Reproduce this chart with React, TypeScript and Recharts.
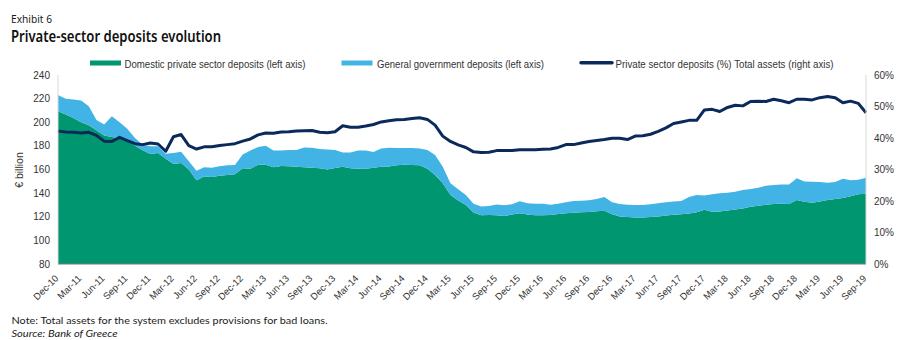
import { ComposedChart, Area, Line, XAxis, YAxis } from 'recharts';

// monthly observations, Dec-10 .. Sep-19
const months = [
  'Dec-10',
  'Jan-11', 'Feb-11', 'Mar-11', 'Apr-11', 'May-11', 'Jun-11', 'Jul-11', 'Aug-11', 'Sep-11', 'Oct-11', 'Nov-11', 'Dec-11',
  'Jan-12', 'Feb-12', 'Mar-12', 'Apr-12', 'May-12', 'Jun-12', 'Jul-12', 'Aug-12', 'Sep-12', 'Oct-12', 'Nov-12', 'Dec-12',
  'Jan-13', 'Feb-13', 'Mar-13', 'Apr-13', 'May-13', 'Jun-13', 'Jul-13', 'Aug-13', 'Sep-13', 'Oct-13', 'Nov-13', 'Dec-13',
  'Jan-14', 'Feb-14', 'Mar-14', 'Apr-14', 'May-14', 'Jun-14', 'Jul-14', 'Aug-14', 'Sep-14', 'Oct-14', 'Nov-14', 'Dec-14',
  'Jan-15', 'Feb-15', 'Mar-15', 'Apr-15', 'May-15', 'Jun-15', 'Jul-15', 'Aug-15', 'Sep-15', 'Oct-15', 'Nov-15', 'Dec-15',
  'Jan-16', 'Feb-16', 'Mar-16', 'Apr-16', 'May-16', 'Jun-16', 'Jul-16', 'Aug-16', 'Sep-16', 'Oct-16', 'Nov-16', 'Dec-16',
  'Jan-17', 'Feb-17', 'Mar-17', 'Apr-17', 'May-17', 'Jun-17', 'Jul-17', 'Aug-17', 'Sep-17', 'Oct-17', 'Nov-17', 'Dec-17',
  'Jan-18', 'Feb-18', 'Mar-18', 'Apr-18', 'May-18', 'Jun-18', 'Jul-18', 'Aug-18', 'Sep-18', 'Oct-18', 'Nov-18', 'Dec-18',
  'Jan-19', 'Feb-19', 'Mar-19', 'Apr-19', 'May-19', 'Jun-19', 'Jul-19', 'Aug-19', 'Sep-19',
];

// € billion
const privateDeposits = [
  209.4, 206.6, 203.7, 200.0, 197.5, 193.3, 188.7, 187.6, 186.5, 184.8,
  180.2, 176.3, 173.1, 174.0, 169.0, 164.6, 165.5, 160.0, 151.0, 154.0,
  153.6, 154.7, 155.3, 156.0, 161.0, 160.7, 164.0, 164.0, 162.0, 163.0,
  162.7, 162.4, 161.8, 161.5, 161.0, 160.1, 161.2, 162.4, 161.0, 160.7,
  160.7, 161.5, 162.4, 162.6, 163.5, 164.0, 163.8, 163.5, 160.7, 155.3,
  148.3, 138.5, 133.7, 130.0, 123.5, 121.3, 121.5, 121.3, 120.7, 121.8,
  123.0, 121.8, 121.3, 121.3, 121.5, 122.4, 123.0, 123.3, 123.8, 124.1,
  124.6, 125.1, 122.2, 120.2, 119.7, 119.4, 119.4, 119.7, 120.2, 121.1,
  121.7, 122.2, 122.8, 123.8, 125.9, 124.2, 124.5, 125.3, 126.2, 127.0,
  128.4, 129.3, 130.2, 130.7, 131.0, 130.7, 134.1, 132.7, 131.8, 133.0,
  134.1, 135.0, 135.8, 137.3, 139.0, 139.5,
];

const govDeposits = [
  13.6, 13.4, 15.6, 18.5, 16.1, 8.7, 9.3, 17.4, 13.5, 9.6,
  6.5, 4.7, 6.6, 5.7, 4.4, 9.4, 9.5, 7.0, 8.0, 8.0,
  7.9, 8.0, 8.2, 7.8, 11.6, 15.3, 15.0, 16.2, 14.0, 13.0,
  13.8, 14.1, 16.9, 17.0, 16.3, 16.9, 15.3, 11.9, 13.3, 15.3,
  15.3, 13.4, 15.3, 15.9, 14.7, 14.2, 14.4, 14.2, 15.8, 17.0,
  14.1, 9.9, 9.6, 8.5, 7.4, 7.3, 7.7, 9.0, 9.1, 8.8,
  10.2, 9.7, 9.6, 9.6, 8.6, 8.6, 9.3, 10.0, 9.8, 9.8,
  10.4, 11.7, 10.1, 10.5, 10.5, 10.5, 10.5, 10.8, 11.3, 11.1,
  11.3, 11.1, 14.0, 14.7, 12.0, 14.8, 15.3, 15.1, 15.0, 15.6,
  15.0, 15.3, 16.1, 16.2, 16.2, 16.5, 18.5, 17.2, 17.9, 16.4,
  14.7, 14.4, 16.4, 13.6, 12.4, 13.6,
];

// private sector deposits as % of total assets
const depositShare = [
  42.2, 41.9, 41.8, 41.6, 41.8, 40.8, 39.0, 38.9, 40.2, 39.2,
  38.2, 37.9, 38.4, 38.1, 35.8, 40.4, 41.1, 37.6, 36.5, 37.2,
  37.2, 37.6, 37.9, 38.2, 39.0, 39.7, 41.0, 41.6, 41.5, 41.9,
  42.0, 42.2, 42.3, 42.4, 41.8, 41.7, 42.0, 43.9, 43.4, 43.4,
  43.8, 44.3, 45.1, 45.5, 45.8, 45.9, 46.2, 46.4, 45.9, 44.1,
  40.6, 38.9, 37.8, 37.0, 35.6, 35.4, 35.5, 36.0, 36.0, 36.0,
  36.3, 36.3, 36.3, 36.4, 36.5, 37.0, 37.9, 37.9, 38.4, 38.9,
  39.2, 39.5, 39.9, 39.9, 39.5, 40.6, 40.7, 41.2, 42.1, 43.2,
  44.6, 45.1, 45.6, 45.6, 48.9, 49.1, 48.4, 49.7, 50.4, 50.2,
  51.6, 51.7, 51.6, 52.3, 51.8, 51.2, 52.3, 52.3, 52.1, 52.8,
  53.2, 52.8, 51.2, 51.7, 51.0, 48.0,
];

const leftTicks = [80, 100, 120, 140, 160, 180, 200, 220, 240];
const rightTicks = [0, 10, 20, 30, 40, 50, 60];

const GREEN = '#00966f';
const BLUE = '#41b3e5';
const NAVY = '#0b2a5b';
const ARIAL = '"Liberation Sans", Arial, sans-serif';
const SANS = '"Noto Sans", "Open Sans", sans-serif';
const NOTE = 'Lato, "Noto Sans", sans-serif';

function MonthTick(props: any) {
  const { x, y, payload } = props;
  const ax = x + 1;
  const ay = y + 15;
  return (
    <text
      x={ax}
      y={ay}
      transform={`rotate(-45 ${ax} ${ay})`}
      textAnchor="end"
      fontSize={9.5}
      fontFamily={ARIAL}
      fill="#333"
    >
      {payload.value}
    </text>
  );
}

export default function App() {
  const data = months.map((m, i) => ({
    month: m,
    privateDep: privateDeposits[i],
    govDep: govDeposits[i],
    share: depositShare[i],
  }));

  return (
    <div style={{ position: 'absolute', left: 0, top: 0, width: 900, height: 340, background: '#fff' }}>
      <ComposedChart width={900} height={340} data={data} margin={{ top: 75, right: 0, bottom: 36, left: 0 }}>
        <XAxis
          dataKey="month"
          scale="point"
          interval={2}
          height={40}
          tickLine={false}
          tickSize={0}
          tickMargin={0}
          axisLine={{ stroke: '#6f7c7c' }}
          tick={<MonthTick />}
        />
        <YAxis
          yAxisId="left"
          width={58}
          domain={[80, 240]}
          ticks={leftTicks}
          allowDataOverflow
          tickLine={false}
          axisLine={{ stroke: '#d9d9d9' }}
          tick={{ fontSize: 10, fill: '#333', fontFamily: ARIAL }}
        />
        <YAxis
          yAxisId="right"
          orientation="right"
          width={34}
          domain={[0, 60]}
          ticks={rightTicks}
          tickFormatter={(v: number) => `${v}%`}
          tickLine={false}
          axisLine={{ stroke: '#d9d9d9' }}
          tick={{ fontSize: 10, fill: '#333', fontFamily: ARIAL, textAnchor: 'start' }}
        />
        <Area
          yAxisId="left"
          stackId="dep"
          type="linear"
          dataKey="privateDep"
          stroke="none"
          fill={GREEN}
          fillOpacity={1}
          isAnimationActive={false}
        />
        <Area
          yAxisId="left"
          stackId="dep"
          type="linear"
          dataKey="govDep"
          stroke="none"
          fill={BLUE}
          fillOpacity={1}
          isAnimationActive={false}
        />
        <Line
          yAxisId="right"
          type="linear"
          dataKey="share"
          stroke={NAVY}
          strokeWidth={3}
          strokeLinejoin="round"
          dot={false}
          activeDot={false}
          isAnimationActive={false}
        />
      </ComposedChart>

      <svg width={900} height={340} style={{ position: 'absolute', left: 0, top: 0, pointerEvents: 'none' }}>
        <text x={11} y={23.3} fontSize={11} fontFamily={SANS} fill="#1a1a1a" textLength={41} lengthAdjust="spacingAndGlyphs">
          Exhibit 6
        </text>
        <text x={11} y={41.7} fontSize={15.5} fontWeight={600} fontFamily={SANS} fill="#111" textLength={210} lengthAdjust="spacingAndGlyphs">
          Private-sector deposits evolution
        </text>

        <rect x={90} y={60.5} width={31} height={5} fill={GREEN} />
        <text x={124.5} y={67.5} fontSize={10} fontFamily={ARIAL} fill="#333" textLength={181} lengthAdjust="spacingAndGlyphs">
          Domestic private sector deposits (left axis)
        </text>
        <rect x={341.5} y={60.5} width={31} height={5} fill={BLUE} />
        <text x={377} y={67.5} fontSize={10} fontFamily={ARIAL} fill="#333" textLength={167} lengthAdjust="spacingAndGlyphs">
          General government deposits (left axis)
        </text>
        <line x1={581} y1={62.8} x2={612} y2={62.8} stroke={NAVY} strokeWidth={3.5} strokeLinecap="round" />
        <text x={615.5} y={67.5} fontSize={10} fontFamily={ARIAL} fill="#333" textLength={218} lengthAdjust="spacingAndGlyphs">
          Private sector deposits (%) Total assets (right axis)
        </text>

        <text x={22.5} y={170} transform="rotate(-90 22.5 170)" textAnchor="middle" fontSize={10.5} fontFamily={ARIAL} fill="#333">
          € billion
        </text>

        <text x={11.5} y={323.8} fontSize={10} fontFamily={NOTE} fill="#1a1a1a" textLength={316} lengthAdjust="spacingAndGlyphs">
          Note: Total assets for the system excludes provisions for bad loans.
        </text>
        <text x={11.5} y={336.5} fontSize={10} fontStyle="italic" fontFamily={NOTE} fill="#1a1a1a" textLength={106} lengthAdjust="spacingAndGlyphs">
          Source: Bank of Greece
        </text>
      </svg>
    </div>
  );
}
